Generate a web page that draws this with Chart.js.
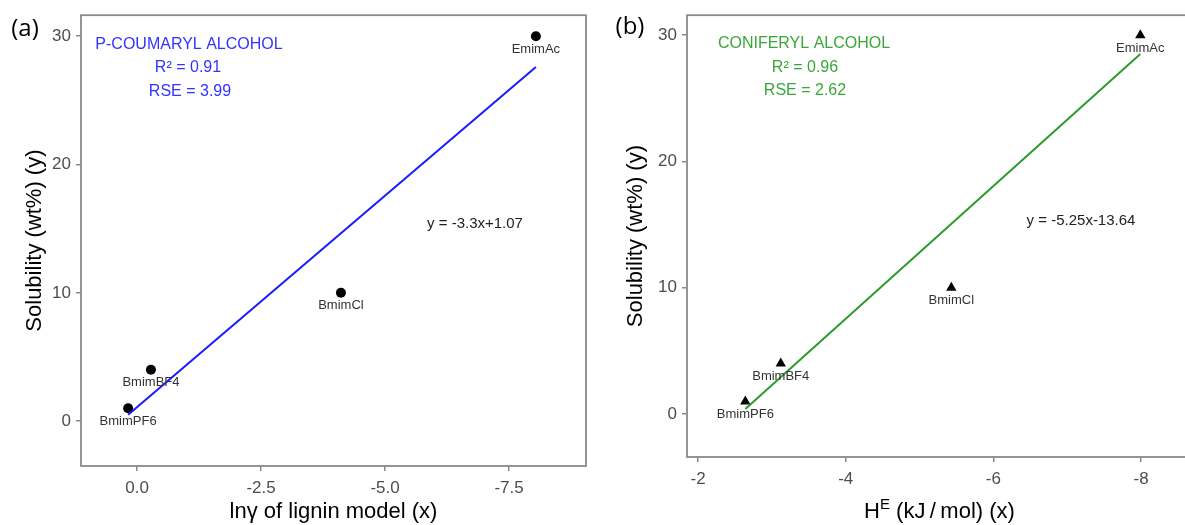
<!DOCTYPE html>
<html><head><meta charset="utf-8">
<script src="https://cdn.jsdelivr.net/npm/chart.js@4/dist/chart.umd.min.js"></script>
<style>
html,body{margin:0;padding:0;background:#fff;overflow:hidden;width:1185px;height:525px;}
#wrapA{position:absolute;left:0;top:0;width:600px;height:525px;}
#wrapB{position:absolute;left:600px;top:0;width:600px;height:525px;}
canvas{display:block;}
</style></head><body>
<div id="wrapA"><canvas id="cA" width="600" height="525"></canvas></div>
<div id="wrapB"><canvas id="cB" width="600" height="525"></canvas></div>
<script>
// ---- data ----
const ionicLiquids = ['BmimPF6', 'BmimBF4', 'BmimCl', 'EmimAc'];
const solubility = [1, 4, 10, 30];
const lnGamma = [0.18, -0.28, -4.11, -8.04];
const excessEnthalpy = [-2.64, -3.12, -5.43, -7.99];
const fitA_x = [0.18, -8.04];
const fitA_y = [0.5, 27.6];
const fitB_x = [-2.64, -7.99];
const fitB_y = [0.4, 28.5];
const yTicks = [0, 10, 20, 30];
const xTicksA = [0, -2.5, -5, -7.5];
const xTickLabelsA = ['0.0', '-2.5', '-5.0', '-7.5'];
const xTicksB = [-2, -4, -6, -8];
const xTickLabelsB = ['-2', '-4', '-6', '-8'];

const FONT = "'Liberation Sans', Arial, sans-serif";
const GREY = '#4d4d4d';
const FRAME = '#8a8a8a';

function pts(xs, ys) { return xs.map((x, i) => ({ x: x, y: ys[i] })); }

const framePlugin = {
  id: 'frame',
  afterDatasetsDraw(chart) {
    const a = chart.chartArea, c = chart.ctx;
    c.save();
    c.strokeStyle = FRAME; c.lineWidth = 1.8;
    c.strokeRect(a.left, a.top, a.right - a.left, a.bottom - a.top);
    c.restore();
  }
};

const pointLabelPlugin = {
  id: 'pointLabels',
  afterDatasetsDraw(chart) {
    const meta = chart.getDatasetMeta(1);
    const c = chart.ctx;
    c.save();
    c.font = '13px ' + FONT;
    c.fillStyle = '#333';
    c.textAlign = 'center';
    c.textBaseline = 'middle';
    meta.data.forEach((el, i) => {
      c.fillText(ionicLiquids[i], el.x, el.y + 13);
    });
    c.restore();
  }
};

const textPlugin = {
  id: 'texts',
  afterDraw(chart, args, opts) {
    const c = chart.ctx;
    c.save();
    c.textAlign = 'center';
    c.textBaseline = 'middle';
    (opts.items || []).forEach(t => {
      c.font = (t.weight || '') + ' ' + t.size + 'px ' + (t.family || FONT);
      c.fillStyle = t.color;
      if (t.align) c.textAlign = t.align; else c.textAlign = 'center';
      c.fillText(t.text, t.x, t.y);
    });
    if (opts.supTitle) {
      const s = opts.supTitle;
      const a = chart.chartArea;
      const cx = (a.left + a.right) / 2;
      c.fillStyle = '#000';
      c.textBaseline = 'alphabetic';
      c.font = s.size + 'px ' + FONT;
      const w1 = c.measureText(s.base).width;
      c.font = s.supSize + 'px ' + FONT;
      const w2 = c.measureText(s.sup).width;
      c.font = s.size + 'px ' + FONT;
      const w3 = c.measureText(s.rest).width;
      let x = cx - (w1 + w2 + w3) / 2;
      c.textAlign = 'left';
      c.fillText(s.base, x, s.y); x += w1;
      c.font = s.supSize + 'px ' + FONT;
      c.fillText(s.sup, x, s.y - 9); x += w2;
      c.font = s.size + 'px ' + FONT;
      c.fillText(s.rest, x, s.y);
    }
    c.restore();
  }
};

function makeChart(id, cfg) {
  return new Chart(document.getElementById(id), {
    data: {
      datasets: [
        { type: 'line', data: pts(cfg.fitX, cfg.fitY), borderColor: cfg.lineColor, borderWidth: 2,
          pointRadius: 0, fill: false, tension: 0 },
        { type: 'scatter', data: pts(cfg.xs, solubility), pointStyle: cfg.pointStyle,
          pointRadius: cfg.pointRadius, backgroundColor: '#000', borderColor: '#000', borderWidth: 0 }
      ]
    },
    options: {
      responsive: false, animation: false, devicePixelRatio: 1,
      layout: { padding: { top: 15, right: cfg.padRight, left: 0, bottom: 0 } },
      plugins: { legend: { display: false }, tooltip: { enabled: false }, texts: cfg.texts },
      scales: {
        x: {
          type: 'linear', reverse: true, min: cfg.xMin, max: cfg.xMax,
          afterFit(s) { s.height = cfg.xHeight; },
          afterBuildTicks(s) { s.ticks = cfg.xTicks.map(v => ({ value: v })); },
          ticks: { callback: (v, i) => cfg.xLabels[i], font: { family: FONT, size: 17 }, color: GREY,
                   padding: 7, maxRotation: 0, autoSkip: false },
          grid: { drawOnChartArea: false, tickLength: 5, color: FRAME, lineWidth: 1.5 },
          border: { display: false },
          title: { display: !!cfg.xTitle, text: cfg.xTitle || '', font: { family: FONT, size: 22 },
                   color: '#000', padding: { top: 0, bottom: 0 } }
        },
        y: {
          type: 'linear', min: cfg.yMin, max: cfg.yMax,
          afterFit(s) { s.width = cfg.yWidth; },
          afterBuildTicks(s) { s.ticks = yTicks.map(v => ({ value: v })); },
          ticks: { callback: (v, i) => String(yTicks[i]), font: { family: FONT, size: 17 }, color: GREY,
                   padding: 5, autoSkip: false },
          grid: { drawOnChartArea: false, tickLength: 5, color: FRAME, lineWidth: 1.5 },
          border: { display: false },
          title: { display: true, text: 'Solubility (wt%) (y)', font: { family: FONT, size: 22 },
                   color: '#000', padding: { top: cfg.yTitlePad, bottom: 0 } }
        }
      }
    },
    plugins: [framePlugin, pointLabelPlugin, textPlugin]
  });
}

makeChart('cA', {
  xs: lnGamma, fitX: fitA_x, fitY: fitA_y, lineColor: '#1a1aff', pointStyle: 'circle', pointRadius: 5,
  xMin: -9.05, xMax: 1.13, yMin: -3.5, yMax: 31.64,
  xTicks: xTicksA, xLabels: xTickLabelsA, xTitle: 'ln\u03B3 of lignin model (x)',
  xHeight: 59, yWidth: 81, padRight: 14, yTitlePad: 22,
  texts: { items: [
    { text: '(a)', x: 25, y: 29, size: 24, color: '#000', family: "'Open Sans', sans-serif" },
    { text: 'P-COUMARYL ALCOHOL', x: 189, y: 45, size: 16, color: '#3333ff' },
    { text: 'R\u00B2 = 0.91', x: 188, y: 68, size: 16, color: '#3333ff' },
    { text: 'RSE = 3.99', x: 190, y: 92, size: 16, color: '#3333ff' },
    { text: 'y = -3.3x+1.07', x: 475, y: 224, size: 15, color: '#222' }
  ] }
});

makeChart('cB', {
  xs: excessEnthalpy, fitX: fitB_x, fitY: fitB_y, lineColor: '#2e9a2e', pointStyle: 'triangle', pointRadius: 6,
  xMin: -8.69, xMax: -1.85, yMin: -3.4, yMax: 31.58,
  xTicks: xTicksB, xLabels: xTickLabelsB, xTitle: '',
  xHeight: 68, yWidth: 87, padRight: 8, yTitlePad: 23,
  texts: { items: [
    { text: '(b)', x: 30, y: 27, size: 24, color: '#000', family: "'Open Sans', sans-serif" },
    { text: 'CONIFERYL ALCOHOL', x: 204, y: 44, size: 16, color: '#3aa63a' },
    { text: 'R\u00B2 = 0.96', x: 205, y: 68, size: 16, color: '#3aa63a' },
    { text: 'RSE = 2.62', x: 205, y: 91, size: 16, color: '#3aa63a' },
    { text: 'y = -5.25x-13.64', x: 481, y: 221, size: 15, color: '#222' }
  ], supTitle: { base: 'H', sup: 'E', rest: ' (kJ\u2009/\u2009mol) (x)', size: 22, supSize: 15, y: 518 } }
});
</script>
</body></html>
